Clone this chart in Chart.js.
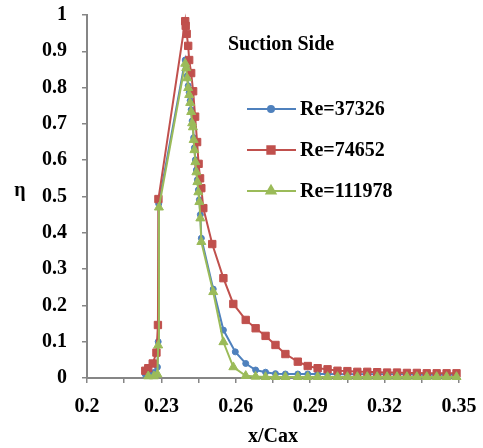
<!DOCTYPE html>
<html>
<head>
<meta charset="utf-8">
<script src="https://cdn.jsdelivr.net/npm/chart.js@4.4.1/dist/chart.umd.min.js"></script>
<style>
  html, body { margin: 0; padding: 0; background: #ffffff; }
  #wrap { width: 483px; height: 448px; position: relative; }
</style>
</head>
<body>
<div id="wrap"><canvas id="c"></canvas></div>
<script>
// ---- Data ----
const seriesNames = ['Re=37326', 'Re=74652', 'Re=111978'];

const blueX = [0.2235, 0.2250, 0.2270, 0.2284, 0.2287, 0.2289, 0.2396, 0.2400, 0.2404, 0.2408, 0.2412, 0.2416, 0.2420, 0.2424, 0.2427, 0.2430, 0.2433, 0.2437, 0.2441, 0.2445, 0.2449, 0.2453, 0.2457, 0.2461, 0.2509, 0.2550, 0.2598, 0.2640, 0.268, 0.272, 0.276, 0.280, 0.285, 0.289, 0.293, 0.297, 0.301, 0.305, 0.309, 0.313, 0.317, 0.321, 0.325, 0.329, 0.333, 0.337, 0.341, 0.345, 0.349];
const blueY = [0.010, 0.012, 0.015, 0.030, 0.100, 0.480, 0.876, 0.860, 0.832, 0.805, 0.786, 0.764, 0.739, 0.708, 0.697, 0.662, 0.634, 0.601, 0.573, 0.546, 0.518, 0.491, 0.450, 0.385, 0.245, 0.132, 0.072, 0.040, 0.022, 0.016, 0.012, 0.011, 0.011, 0.011, 0.011, 0.011, 0.010, 0.010, 0.010, 0.010, 0.010, 0.010, 0.010, 0.010, 0.009, 0.009, 0.009, 0.009, 0.009];

const redX = [0.2235, 0.2247, 0.2265, 0.2280, 0.2286, 0.2288, 0.2396, 0.2398, 0.2402, 0.2408, 0.2412, 0.2420, 0.2428, 0.2436, 0.2444, 0.2450, 0.2456, 0.2461, 0.2469, 0.2505, 0.2550, 0.2590, 0.264, 0.268, 0.272, 0.276, 0.280, 0.285, 0.289, 0.293, 0.297, 0.301, 0.305, 0.309, 0.313, 0.317, 0.321, 0.325, 0.329, 0.333, 0.337, 0.341, 0.345, 0.349];
const redY = [0.020, 0.027, 0.040, 0.070, 0.146, 0.493, 0.983, 0.970, 0.948, 0.915, 0.876, 0.840, 0.790, 0.720, 0.650, 0.590, 0.550, 0.523, 0.468, 0.369, 0.275, 0.204, 0.160, 0.137, 0.116, 0.091, 0.066, 0.045, 0.033, 0.027, 0.024, 0.020, 0.019, 0.017, 0.017, 0.016, 0.015, 0.015, 0.014, 0.014, 0.013, 0.013, 0.013, 0.013];

const greenX = [0.2247, 0.2270, 0.2284, 0.2287, 0.2290, 0.2396, 0.2400, 0.2404, 0.2408, 0.2412, 0.2416, 0.2420, 0.2424, 0.2427, 0.2430, 0.2433, 0.2437, 0.2441, 0.2445, 0.2449, 0.2453, 0.2457, 0.2461, 0.2509, 0.2550, 0.2590, 0.264, 0.268, 0.272, 0.276, 0.280, 0.285, 0.289, 0.293, 0.297, 0.301, 0.305, 0.309, 0.313, 0.317, 0.321, 0.325, 0.329, 0.333, 0.337, 0.341, 0.345, 0.349];
const greenY = [0.005, 0.005, 0.010, 0.090, 0.470, 0.866, 0.854, 0.826, 0.799, 0.780, 0.758, 0.733, 0.702, 0.691, 0.656, 0.628, 0.595, 0.567, 0.540, 0.512, 0.485, 0.440, 0.375, 0.237, 0.099, 0.030, 0.006, 0.004, 0.003, 0.003, 0.003, 0.003, 0.003, 0.003, 0.003, 0.003, 0.003, 0.003, 0.003, 0.003, 0.003, 0.003, 0.003, 0.003, 0.003, 0.003, 0.003, 0.003];

const xTickValues = [0.2, 0.215, 0.23, 0.245, 0.26, 0.275, 0.29, 0.305, 0.32, 0.335, 0.35];
const xTickLabels = ['0.2', '', '0.23', '', '0.26', '', '0.29', '', '0.32', '', '0.35'];
const yTickValues = [0, 0.1, 0.2, 0.3, 0.4, 0.5, 0.6, 0.7, 0.8, 0.9, 1];
const yTickLabels = ['0', '0.1', '0.2', '0.3', '0.4', '0.5', '0.6', '0.7', '0.8', '0.9', '1'];

const xTitle = 'x/Cax';
const yTitle = 'η';
const noteText = 'Suction Side';

// ---- Chart ----
const FONT = "'Liberation Serif', 'Times New Roman', serif";
const AXIS_COLOR = '#868686';

function zip(xs, ys) { return xs.map((x, i) => ({ x: x, y: ys[i] })); }

const textPlugin = {
  id: 'textPlugin',
  afterDraw(chart) {
    const ctx = chart.ctx;
    const area = chart.chartArea;
    ctx.save();
    ctx.fillStyle = '#000';
    ctx.font = 'bold 20px ' + FONT;
    ctx.textBaseline = 'middle';
    ctx.textAlign = 'left';
    ctx.fillText(noteText, 228, 45);
    ctx.textAlign = 'center';
    ctx.fillText(yTitle, 20, 191);
    ctx.fillText(xTitle, (area.left + area.right) / 2, 437);
    const rows = [109, 150, 191];
    chart.data.datasets.forEach((ds, i) => {
      const y = rows[i];
      ctx.strokeStyle = ds.borderColor;
      ctx.lineWidth = 2;
      ctx.beginPath();
      ctx.moveTo(247, y);
      ctx.lineTo(296, y);
      ctx.stroke();
      ctx.fillStyle = ds.pointBackgroundColor;
      ctx.strokeStyle = ds.pointBorderColor;
      Chart.helpers.drawPoint(ctx, { pointStyle: ds.pointStyle, radius: ds.pointRadius, rotation: 0, borderWidth: 1 }, 271, y);
      ctx.fillStyle = '#000';
      ctx.textAlign = 'left';
      ctx.fillText(ds.label, 300, y + 1);
    });
    ctx.restore();
  }
};

const datasets = [
  { label: seriesNames[0], data: zip(blueX, blueY), borderColor: '#4F81BD', backgroundColor: '#4F81BD',
    pointBackgroundColor: '#4F81BD', pointBorderColor: '#4F81BD', pointStyle: 'circle', pointRadius: 3, order: 3 },
  { label: seriesNames[1], data: zip(redX, redY), borderColor: '#C0504D', backgroundColor: '#C0504D',
    pointBackgroundColor: '#C0504D', pointBorderColor: '#C0504D', pointStyle: 'rect', pointRadius: 5.2, order: 2 },
  { label: seriesNames[2], data: zip(greenX, greenY), borderColor: '#9BBB59', backgroundColor: '#9BBB59',
    pointBackgroundColor: '#9BBB59', pointBorderColor: '#9BBB59', pointStyle: 'triangle', pointRadius: 5.2, order: 1 }
].map(d => Object.assign({ borderWidth: 2, pointBorderWidth: 1, tension: 0, clip: false, showLine: true }, d));

new Chart(document.getElementById('c'), {
  type: 'scatter',
  data: { datasets: datasets },
  options: {
    responsive: true,
    maintainAspectRatio: false,
    animation: false,
    devicePixelRatio: 1,
    layout: { padding: { left: 0, right: 24, top: 15, bottom: 0 } },
    plugins: { legend: { display: false }, tooltip: { enabled: false }, title: { display: false } },
    scales: {
      x: {
        type: 'linear', min: 0.2, max: 0.35,
        afterBuildTicks: s => { s.ticks = xTickValues.map(v => ({ value: v })); },
        afterFit: s => { s.height = 70; s.paddingLeft = 0; s.paddingRight = 0; },
        ticks: { autoSkip: false, maxRotation: 0, padding: 12, color: '#000',
          font: { family: FONT, size: 20, weight: 'bold' },
          callback: (v, i) => xTickLabels[i] },
        grid: { display: true, drawOnChartArea: false, drawTicks: true, tickLength: 5, color: AXIS_COLOR, lineWidth: 1.5 },
        border: { display: true, color: AXIS_COLOR, width: 2 }
      },
      y: {
        type: 'linear', min: 0, max: 1,
        afterBuildTicks: s => { s.ticks = yTickValues.map(v => ({ value: v })); },
        afterFit: s => { s.width = 87; s.paddingTop = 0; s.paddingBottom = 0; },
        ticks: { autoSkip: false, padding: 15, color: '#000',
          font: { family: FONT, size: 20, weight: 'bold' },
          callback: (v, i) => yTickLabels[i] },
        grid: { display: true, drawOnChartArea: false, drawTicks: true, tickLength: 5, color: AXIS_COLOR, lineWidth: 1.5 },
        border: { display: true, color: AXIS_COLOR, width: 2 }
      }
    }
  },
  plugins: [textPlugin]
});
</script>
</body>
</html>
